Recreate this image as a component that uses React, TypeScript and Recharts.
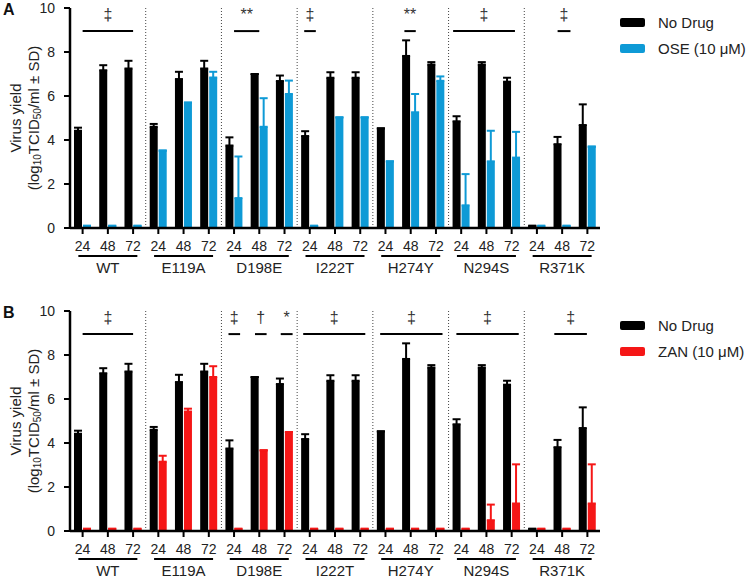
import React from 'react';
import { BarChart, Bar, XAxis, YAxis, ErrorBar, ReferenceLine, Legend } from 'recharts';

const hours = ['24', '48', '72'];
const strains = ['WT', 'E119A', 'D198E', 'I222T', 'H274Y', 'N294S', 'R371K'];

// log10 TCID50/ml, 21 values = 7 strains x 3 time points
const noDrug = [4.42, 7.17, 7.25, 4.6, 6.77, 7.25, 3.75, 7.0, 6.68, 4.18, 6.83, 6.83, 4.53, 7.82, 7.43, 4.85, 7.43, 6.65, 0.1, 3.81, 4.68];
const noDrugSd = [0.14, 0.23, 0.35, 0.13, 0.33, 0.35, 0.37, 0, 0.25, 0.22, 0.25, 0.25, 0, 0.71, 0.11, 0.23, 0.11, 0.18, 0, 0.33, 0.94];
const ose = [0.1, 0.1, 0.1, 3.52, 5.7, 6.84, 1.36, 4.6, 6.09, 0.1, 5.03, 5.03, 3.03, 5.26, 6.69, 1.03, 3.03, 3.2, 0.1, 0.1, 3.7];
const oseSd = [0, 0, 0, 0, 0, 0.26, 1.89, 1.3, 0.61, 0, 0, 0, 0, 0.83, 0.2, 1.42, 1.39, 1.17, 0, 0, 0];
const zan = [0.1, 0.1, 0.1, 3.15, 5.43, 7.0, 0.1, 3.67, 4.5, 0.1, 0.1, 0.1, 0.1, 0.1, 0.1, 0.1, 0.49, 1.25, 0.1, 0.1, 1.25];
const zanSd = [0, 0, 0, 0.27, 0.13, 0.49, 0, 0, 0, 0, 0, 0, 0, 0, 0, 0, 0.71, 1.78, 0, 0, 1.78];

const yTicks = [0, 2, 4, 6, 8, 10];

// significance bars, positions in category units
const sigA = [
  { from: 0, to: 2, mark: '‡' },
  { from: 6, to: 7, mark: '**' },
  { from: 8.78, to: 9.24, mark: '‡' },
  { from: 12.75, to: 13.2, mark: '**' },
  { from: 14.68, to: 17.13, mark: '‡' },
  { from: 18.82, to: 19.33, mark: '‡' },
];
const sigB = [
  { from: 0, to: 2, mark: '‡' },
  { from: 5.78, to: 6.24, mark: '‡' },
  { from: 6.83, to: 7.29, mark: '†' },
  { from: 7.85, to: 8.32, mark: '*' },
  { from: 8.74, to: 11.2, mark: '‡' },
  { from: 11.79, to: 14.26, mark: '‡' },
  { from: 14.81, to: 17.28, mark: '‡' },
  { from: 18.69, to: 19.98, mark: '‡' },
];

const FONT = '"Liberation Sans", Arial, sans-serif';

function HourTick(props: any) {
  const { x, y, payload, index } = props;
  const mid = index % 3 === 1;
  return (
    <g>
      <text x={x} y={y + 15} textAnchor="middle" fontSize={14} fill="#222" fontFamily={FONT}>
        {payload.value}
      </text>
      {mid && (
        <g>
          <line x1={x - 29.5} x2={x + 29.5} y1={y + 20} y2={y + 20} stroke="#000" strokeWidth={2} />
          <text x={x} y={y + 37} textAnchor="middle" fontSize={15} fill="#222" fontFamily={FONT}>
            {strains[Math.floor(index / 3)]}
          </text>
        </g>
      )}
    </g>
  );
}

function YLabel(props: any) {
  const vb = props.viewBox || { y: 8, height: 220 };
  const cy = vb.y + vb.height / 2;
  return (
    <g fontFamily={FONT} fontSize={15} fill="#222">
      <text x={15} y={cy} transform={`rotate(-90, 15, ${cy})`} textAnchor="middle" dominantBaseline="central">
        Virus yield
      </text>
      <text x={33} y={cy} transform={`rotate(-90, 33, ${cy})`} textAnchor="middle" dominantBaseline="central">
        (log<tspan fontSize={10} dy={4}>10</tspan>
        <tspan dy={-4}>TCID</tspan>
        <tspan fontSize={10} dy={4}>50</tspan>
        <tspan dy={-4}>/ml ± SD)</tspan>
      </text>
    </g>
  );
}

const sigMark = (mark: string) => (props: any) => {
  const vb = props.viewBox || { x: 0, y: 0, width: 0 };
  const cx = vb.x + (vb.width || 0) / 2;
  return (
    <text x={cx} y={vb.y - 11} textAnchor="middle" fontSize={16} fill="#333" fontFamily={FONT}>
      {mark}
    </text>
  );
};

function LegendBox(props: any) {
  const items = props.payload || [];
  return (
    <div style={{ fontFamily: FONT, fontSize: 15, color: '#222' }}>
      {items.map((it: any) => (
        <div key={it.value} style={{ display: 'flex', alignItems: 'center', height: 26 }}>
          <span style={{ display: 'inline-block', width: 25, height: 9, borderRadius: 2, background: it.color, marginRight: 13 }} />
          <span>{it.value}</span>
        </div>
      ))}
    </div>
  );
}

interface PanelProps {
  letter: string;
  drugName: string;
  drugColor: string;
  drug: number[];
  drugSd: number[];
  sig: { from: number; to: number; mark: string }[];
}

function Panel({ letter, drugName, drugColor, drug, drugSd, sig }: PanelProps) {
  const data = strains.flatMap((s, si) =>
    hours.map((h, hi) => {
      const i = si * 3 + hi;
      return {
        idx: i,
        hour: h,
        strain: s,
        nd: noDrug[i],
        ndErr: [0, noDrugSd[i]],
        drug: drug[i],
        drugErr: [0, drugSd[i]],
      };
    })
  );
  const separators = strains.slice(1).map((_, i) => (i + 1) * 3 - 0.5);

  return (
    <div style={{ position: 'relative', width: 750, height: 290 }}>
      <div style={{ position: 'absolute', left: 3, top: 1, fontFamily: FONT, fontWeight: 'bold', fontSize: 16, color: '#111' }}>
        {letter}
      </div>
      <BarChart
        width={750}
        height={290}
        data={data}
        margin={{ top: 8, right: 150, bottom: 12, left: 0 }}
        barSize={8}
        barGap={1}
      >
        <XAxis
          dataKey="hour"
          interval={0}
          height={50}
          tickSize={6}
          tickMargin={2}
          axisLine={{ stroke: '#000', strokeWidth: 2.5 }}
          tickLine={{ stroke: '#000', strokeWidth: 2 }}
          tick={<HourTick />}
        />
        <XAxis xAxisId="num" type="number" dataKey="idx" domain={[-0.5, 20.5]} allowDataOverflow hide />
        <YAxis
          domain={[0, 10]}
          ticks={yTicks}
          width={70}
          tickSize={6}
          tickMargin={9}
          axisLine={{ stroke: '#000', strokeWidth: 2.5 }}
          tickLine={{ stroke: '#000', strokeWidth: 2 }}
          tick={{ fontSize: 14, fill: '#222', fontFamily: FONT }}
          label={<YLabel />}
        />
        {separators.map((x) => (
          <ReferenceLine key={x} xAxisId="num" x={x} stroke="#444" strokeDasharray="1 2" strokeWidth={1} />
        ))}
        <Bar dataKey="nd" name="No Drug" fill="#000" isAnimationActive={false}>
          <ErrorBar dataKey="ndErr" direction="y" width={4} strokeWidth={2} stroke="#000" isAnimationActive={false} />
        </Bar>
        <Bar dataKey="drug" name={drugName} fill={drugColor} isAnimationActive={false}>
          <ErrorBar dataKey="drugErr" direction="y" width={4} strokeWidth={2} stroke={drugColor} isAnimationActive={false} />
        </Bar>
        {sig.map((s, i) => (
          <ReferenceLine
            key={i}
            xAxisId="num"
            segment={[{ x: s.from, y: 8.95 }, { x: s.to, y: 8.95 }]}
            stroke="#000"
            strokeWidth={2}
            ifOverflow="visible"
            label={sigMark(s.mark)}
          />
        ))}
        <Legend
          layout="vertical"
          align="center"
          verticalAlign="middle"
          content={<LegendBox />}
          wrapperStyle={{ left: 620, top: 9, width: 130 }}
        />
      </BarChart>
    </div>
  );
}

export default function App() {
  return (
    <div style={{ position: 'absolute', left: 0, top: 0, width: 750, height: 584, background: '#fff' }}>
      <div style={{ position: 'absolute', left: 0, top: 0 }}>
        <Panel letter="A" drugName="OSE (10 μM)" drugColor="#0e9ad6" drug={ose} drugSd={oseSd} sig={sigA} />
      </div>
      <div style={{ position: 'absolute', left: 0, top: 303 }}>
        <Panel letter="B" drugName="ZAN (10 μM)" drugColor="#f51616" drug={zan} drugSd={zanSd} sig={sigB} />
      </div>
    </div>
  );
}
